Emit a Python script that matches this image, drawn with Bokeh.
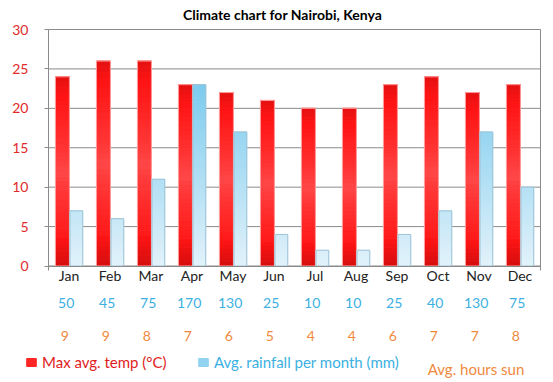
from bokeh.plotting import figure
from bokeh.models import (ColumnDataSource, Label, Legend, LegendItem, LinearAxis,
                          FixedTicker, Range1d)
from bokeh.core.properties import value
from bokeh.embed import file_html
from bokeh.resources import INLINE

months = ["Jan", "Feb", "Mar", "Apr", "May", "Jun", "Jul", "Aug", "Sep", "Oct", "Nov", "Dec"]
max_temp = [24, 26, 26, 23, 22, 21, 20, 20, 23, 24, 22, 23]
rain_bar = [7, 6, 11, 23, 17, 4, 2, 2, 4, 7, 17, 10]
rain_mm = [50, 45, 75, 170, 130, 25, 10, 10, 25, 40, 130, 75]
sun_hours = [9, 9, 8, 7, 6, 5, 4, 4, 6, 7, 7, 8]
y_ticks = [0, 5, 10, 15, 20, 25, 30]

FONT = "Lato"
RED_EDGE = (212, 14, 14)
RED_MAIN = (255, 20, 20)
RED_MID = (255, 72, 72)
BLUE_TOP = (124, 203, 238)
BLUE_BOT = (226, 242, 250)
BLUE_TXT = "#3bb0e2"
ORANGE = "#f0893e"
GRAY = "#8a8a8a"

# ---- layout (pixels) ----
W, H = 550, 380
PL, PR, PT, PB = 48, 540, 29, 265.5          # plot area edges
XMIN, XMAX = -0.5, len(months) - 0.5
YMIN, YMAX = 0, 30
sx = (PR - PL) / (XMAX - XMIN)
sy = (PB - PT) / (YMAX - YMIN)
def ypx(py):  # page pixel row -> data y
    return YMIN + (PB - py) / sy
def xpx(px):
    return XMIN + (px - PL) / sx

def hexc(c):
    return "#%02x%02x%02x" % tuple(round(v) for v in c)

def mix(a, b, t):
    return tuple(a[k] + (b[k] - a[k]) * t for k in range(3))

p = figure(width=W, height=H, min_border=0,
           x_range=Range1d(xpx(0), xpx(W)), y_range=Range1d(ypx(H), ypx(0)),
           x_axis_type=None, y_axis_type=None,
           output_backend="svg", toolbar_location=None, tools="")
p.outline_line_color = None
p.grid.visible = False

xs = list(range(len(months)))
RED_OFF, RED_W = -0.16, 0.34
BLUE_OFF, BLUE_W = 0.18, 0.31

# grid lines + right border
p.segment(x0=[XMIN] * len(y_ticks), x1=[XMAX] * len(y_ticks), y0=y_ticks, y1=y_ticks,
          line_color=GRAY, line_width=1)
p.segment(x0=[XMAX], x1=[XMAX], y0=[ypx(PB + 4)], y1=[YMAX], line_color=GRAY, line_width=1)

src = ColumnDataSource(dict(xr=[i + RED_OFF for i in xs], xb=[i + BLUE_OFF for i in xs],
                            temp=max_temp, rain=rain_bar))

# red bars: shading along the bar (dark ends, lighter middle)
def red_at(t):
    if t < 0.15:
        return mix(RED_EDGE, RED_MAIN, t / 0.15)
    if t > 0.9:
        return mix(RED_MAIN, RED_EDGE, (t - 0.9) / 0.1 * 0.6)
    d = abs(t - 0.5) / 0.4
    return mix(RED_MID, RED_MAIN, min(1.0, d) ** 0.8)

NB = 40
rx, rb, rt, rc = [], [], [], []
for i, v in enumerate(max_temp):
    for k in range(NB):
        b, t = v * k / NB, v * (k + 1) / NB
        rx.append(i + RED_OFF); rb.append(b); rt.append(t)
        rc.append(hexc(red_at((k + 0.5) / NB)))
r_temp = p.vbar(x=rx, bottom=rb, top=rt, width=RED_W, fill_color=rc, line_color=rc,
                line_width=1)
p.vbar(x="xr", top="temp", width=RED_W, source=src, fill_alpha=0,
       line_color="#ff9f9f", line_width=1)

# blue bars: colour as a function of height
def blue_at(y):
    return hexc(mix(BLUE_BOT, BLUE_TOP, max(0.0, min(1.0, y / 23.0))))

step = 0.5
gx, gb, gt, gc = [], [], [], []
leg_idx = 0
for i, v in enumerate(rain_bar):
    b = 0.0
    while b < v:
        t = min(v, b + step)
        if i == rain_bar.index(max(rain_bar)) and b <= 18 < t:
            leg_idx = len(gx)
        gx.append(i + BLUE_OFF); gb.append(b); gt.append(t); gc.append(blue_at((b + t) / 2))
        b = t
r_rain = p.vbar(x=gx, bottom=gb, top=gt, width=BLUE_W, fill_color=gc, line_color=gc,
                line_width=1)
p.vbar(x="xb", top="rain", width=BLUE_W, source=src, fill_alpha=0,
       line_color="#9ec3d4", line_width=1)

# axes
yax = LinearAxis(fixed_location=XMIN, bounds=(YMIN, YMAX), ticker=FixedTicker(ticks=y_ticks))
yax.axis_line_color = GRAY
yax.major_tick_line_color = GRAY
yax.major_tick_out = 4
yax.major_tick_in = 0
yax.minor_tick_line_color = None
yax.major_label_standoff = 16
yax.major_label_text_color = "#e02a2a"
yax.major_label_text_font = FONT
yax.major_label_text_font_size = "14px"
p.add_layout(yax, "left")

xax = LinearAxis(fixed_location=YMIN, bounds=(XMIN - 0.03, XMAX),
                 ticker=FixedTicker(ticks=xs, minor_ticks=[XMIN, XMAX]))
xax.major_label_overrides = {i: m for i, m in enumerate(months)}
xax.axis_line_color = GRAY
xax.major_tick_line_color = None
xax.major_tick_out = 0
xax.major_tick_in = 0
xax.minor_tick_line_color = GRAY
xax.minor_tick_out = 4
xax.minor_tick_in = 0
xax.major_label_standoff = -3
xax.major_label_text_color = "#222222"
xax.major_label_text_font = FONT
xax.major_label_text_font_size = "14px"
p.add_layout(xax, "below")

# rows of values under the months
p.text(x=[i - 0.07 for i in xs], y=[ypx(302)] * 12, text=[str(v) for v in rain_mm],
       text_color=BLUE_TXT, text_font=value(FONT), text_font_size="14px",
       text_align="center", text_baseline="middle")
p.text(x=[i - 0.1 for i in xs], y=[ypx(335)] * 12, text=[str(v) for v in sun_hours],
       text_color=ORANGE, text_font=value(FONT), text_font_size="14px",
       text_align="center", text_baseline="middle")

# title
p.add_layout(Label(x=xpx(282), y=ypx(14), text="Climate chart for Nairobi, Kenya",
                   text_align="center", text_baseline="middle", text_font=FONT,
                   text_font_size="14px", text_font_style="bold", text_color="#000000"))

# legends
leg_common = dict(orientation="horizontal", padding=0, margin=0, spacing=0,
                  border_line_color=None, background_fill_alpha=0,
                  glyph_width=12, glyph_height=10, label_height=12,
                  label_standoff=5, label_text_font=FONT, label_text_font_size="15px")
leg1 = Legend(items=[LegendItem(label="Max avg. temp (°C)", renderers=[r_temp], index=NB // 4)],
              location=(25, 9), label_text_color="#e01c1c", **leg_common)
leg2 = Legend(items=[LegendItem(label="Avg. rainfall per month (mm)", renderers=[r_rain],
                                index=leg_idx)],
              location=(197, 9), label_text_color=BLUE_TXT, **leg_common)
p.add_layout(leg1)
p.add_layout(leg2)
p.add_layout(Label(x=xpx(475.5), y=ypx(368), text="Avg. hours sun", text_align="center",
                   text_baseline="middle", text_font=FONT, text_font_size="15px",
                   text_color=ORANGE))

open("out.html", "w").write(file_html(p, INLINE))
